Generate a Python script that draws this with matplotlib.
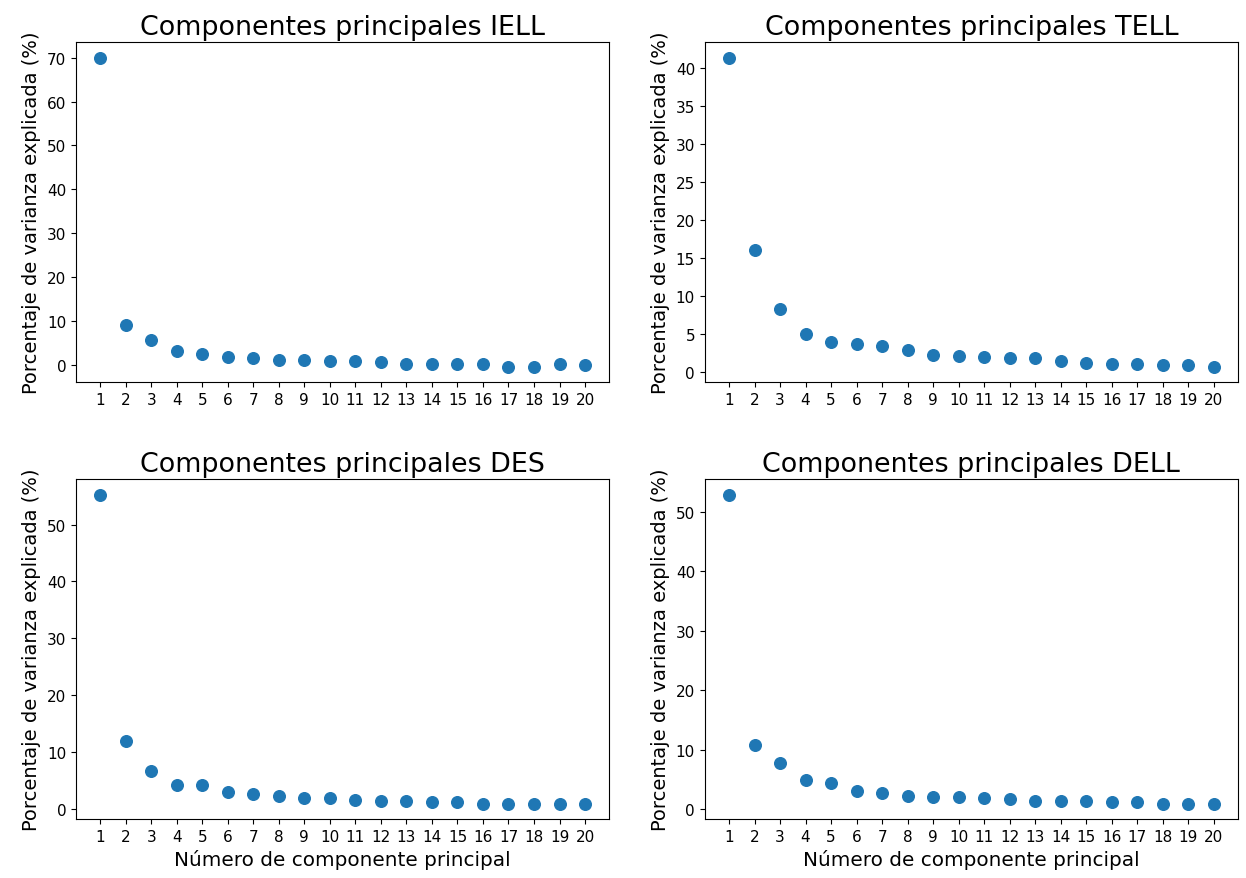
import numpy as np
import matplotlib
matplotlib.use("Agg")
import matplotlib.pyplot as plt

# componentes 1..20
componentes = list(range(1, 21))

# porcentaje de varianza explicada
var_iell = [70.0, 9.1, 5.7, 3.2, 2.5, 1.9, 1.6, 1.3, 1.3, 1.0,
            1.0, 0.7, 0.4, 0.4, 0.4, 0.4, -0.3, -0.3, 0.4, 0.0]
var_tell = [41.4, 16.0, 8.2, 5.0, 3.9, 3.6, 3.4, 2.8, 2.2, 2.1,
            1.9, 1.75, 1.75, 1.4, 1.2, 1.05, 1.05, 0.85, 0.85, 0.65]
var_des = [55.3, 12.0, 6.7, 4.1, 4.1, 2.9, 2.6, 2.3, 1.9, 1.9,
           1.6, 1.4, 1.4, 1.2, 1.2, 0.9, 0.9, 0.9, 0.9, 0.9]
var_dell = [52.9, 10.8, 7.8, 4.8, 4.4, 3.1, 2.7, 2.2, 2.0, 2.0,
            1.8, 1.6, 1.35, 1.35, 1.35, 1.1, 1.1, 0.9, 0.9, 0.9]

nombres = ["IELL", "TELL", "DES", "DELL"]
series = [var_iell, var_tell, var_des, var_dell]

fig, axs = plt.subplots(2, 2, figsize=(12.46, 8.79), dpi=100)
fig.subplots_adjust(left=0.061, right=0.9936, bottom=0.067, top=0.951,
                    wspace=0.179, hspace=0.285)

for i, (ax, nombre, vals) in enumerate(zip(axs.flat, nombres, series)):
    ax.scatter(componentes, vals, s=70, color="#1f77b4")
    ax.set_title(f"Componentes principales {nombre}", fontsize=19.4)
    ax.set_ylabel("Porcentaje de varianza explicada (%)", fontsize=14)
    ax.set_xticks(componentes)
    ax.tick_params(labelsize=11)
    if i >= 2:
        ax.set_xlabel("Número de componente principal", fontsize=14.4)

fig.savefig("out.png", dpi=100)
